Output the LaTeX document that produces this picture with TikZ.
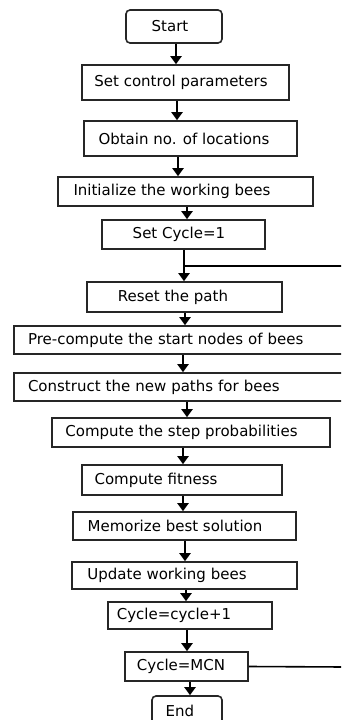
\documentclass[tikz,border=0pt]{standalone}
\usepackage{fontspec}
\setmainfont{DejaVu Sans}
\usepackage{tikz}
\usetikzlibrary{arrows.meta}
\tikzstyle{box}=[draw=black!85, line width=1.6pt, minimum height=29pt, inner sep=0pt, font=\fontsize{15}{17}\selectfont]
\tikzstyle{term}=[box, rounded corners=4pt]
\tikzstyle{wide}=[box, text width=328pt, inner xsep=14pt, align=left]
\tikzstyle{arr}=[line width=2.8pt, -{Triangle[width=11pt,length=8pt]}]
\tikzstyle{back}=[line width=1.6pt]
\newcommand{\txl}[2]{#2\hspace*{#1pt}}

\begin{document}
\begin{tikzpicture}[x=1pt, y=-1pt]

    \useasboundingbox (0,0) rectangle (341,720);
    \clip (0,0) rectangle (341,720);

    %boxes
    \node [term, minimum width=96pt, minimum height=33pt] (start) at (174,26.5) {\txl{8}{Start}};
    \node [box, minimum width=207pt, minimum height=35pt] (ctrl) at (185.5,82.5) {\txl{9}{Set control parameters}};
    \node [box, minimum width=213pt, minimum height=35pt] (obtain) at (190.5,138.5) {\txl{13}{Obtain no. of locations}};
    \node [box, minimum width=255pt] (init) at (185.5,191.5) {\txl{27}{Initialize the working bees}};
    \node [box, minimum width=163pt] (setcyc) at (183.5,234.5) {\txl{9}{Set Cycle=1}};
    \node [box, minimum width=195pt, minimum height=30pt] (reset) at (184.5,297) {\txl{23}{Reset the path}};
    \node [wide, minimum height=28pt] (pre) at (192,340) {Pre-compute the start nodes of bees};
    \node [wide, minimum height=28pt] (construct) at (192,387) {Construct the new paths for bees};
    \node [box, minimum width=278pt] (step) at (191,432.5) {\txl{19}{Compute the step probabilities}};
    \node [box, minimum width=200pt, minimum height=30pt] (fitness) at (182,480) {\txl{52}{Compute fitness}};
    \node [box, minimum width=223pt, minimum height=28pt] (memo) at (184.5,526) {\txl{19}{Memorize best solution}};
    \node [box, minimum width=225pt, minimum height=27pt] (update) at (184.5,575.5) {\txl{35}{Update working bees}};
    \node [box, minimum width=164pt, minimum height=27pt] (cycinc) at (190,615.5) {\txl{32}{Cycle=cycle+1}};
    \node [box, minimum width=123pt] (mcn) at (186.5,666.5) {\txl{11}{Cycle=MCN}};
    \node [term, minimum width=70pt, minimum height=30pt] (end) at (187,711) {\txl{14}{End}};

    %arrows
    \foreach \a/\b/\x in {start/ctrl/176, ctrl/obtain/177, obtain/init/178, init/setcyc/187,
        setcyc/reset/184, reset/pre/185, pre/construct/183, construct/step/187, step/fitness/183,
        fitness/memo/183, memo/update/185, update/cycinc/186, cycinc/mcn/187, mcn/end/190} {
    \coordinate (sp) at (\x,0);
    \draw [arr] (\a.south -| sp) -- (\b.north -| sp);
    }

    %loop back
    \coordinate (join) at (184,266);
    \coordinate (joinout) at (345,266);
    \coordinate (mcnout) at (345,667);
    \draw [back] (join) -- (joinout);
    \draw [back] (mcn.east) -- (mcnout);

\end{tikzpicture}
\end{document}
